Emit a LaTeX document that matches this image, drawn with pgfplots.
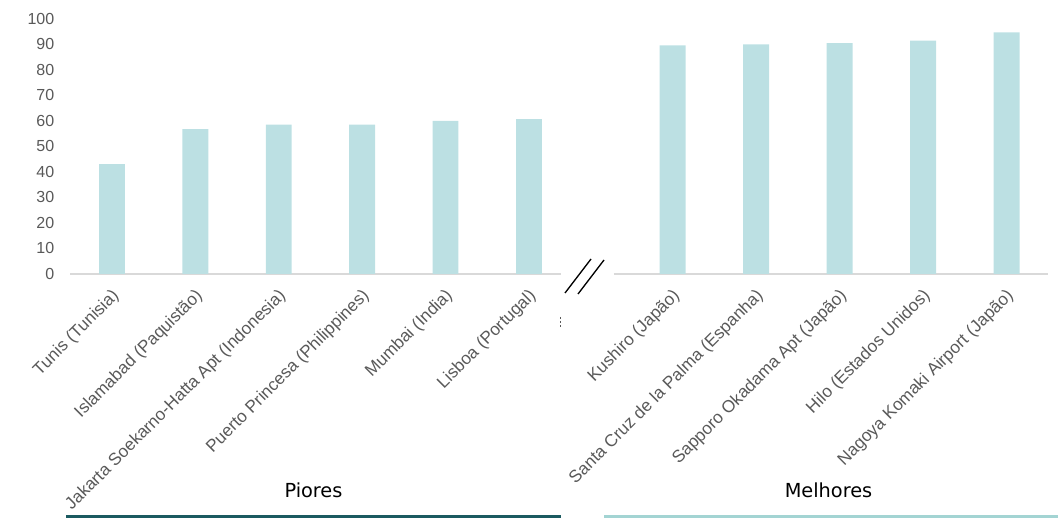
\documentclass[border=0pt]{standalone}
\usepackage{fontspec}
\setmainfont{Liberation Sans}
\newfontfamily\groupfont{DejaVu Sans}
\usepackage{pgfplots}
\pgfplotsset{compat=1.18}

\definecolor{barfill}{HTML}{BCE0E3}
\definecolor{ticktext}{HTML}{595959}
\definecolor{baseline}{HTML}{D9D9D9}
\definecolor{darkteal}{HTML}{1B5A60}
\definecolor{lightteal}{HTML}{A3D4D3}

\pgfplotsset{
  scorebars/.style={
    scale only axis,
    anchor=south west,
    height=191.4pt,
    ymin=0, ymax=100,
    axis x line=bottom,
    axis y line=left,
    x axis line style={-, draw=baseline, line width=1.1pt},
    y axis line style={draw=none},
    major tick length=0pt,
    ybar,
    bar width=0.31,
    xtick={0,...,5},
    ticklabel style={font=\fontsize{12}{14}\selectfont, text=ticktext},
    xticklabel style={font=\fontsize{12.9}{15}\selectfont, xshift=-1pt, yshift=-10pt,
      rotate=45, anchor=north east, inner sep=0pt},
    /pgf/number format/assume math mode=true,
    clip=false,
  }
}

\begin{document}
\begin{tikzpicture}[x=1pt,y=1pt]
\useasboundingbox (0,0) rectangle (793.5,388.5);

% worst-rated airports
\begin{axis}[scorebars,
  at={(52.7pt,183pt)}, width=367.8pt,
  xmin=-0.5, xmax=5.38,
  ytick={0,10,...,100},
  yticklabel style={xshift=-8.5pt},
  xticklabels={Tunis (Tunisia), Islamabad (Paquistão), Jakarta Soekarno-Hatta Apt (Indonesia),
    Puerto Princesa (Philippines), Mumbai (India), Lisboa (Portugal)},
]
\addplot[fill=barfill, draw=none] coordinates {
  (0,43.1) (1,56.8) (2,58.5) (3,58.5) (4,60.0) (5,60.7)};
\end{axis}

% best-rated airports
\begin{axis}[scorebars,
  at={(460.35pt,183pt)}, width=325.9pt,
  xmin=-0.705, xmax=4.5,
  xtick={0,...,4},
  ytick=\empty,
  xticklabels={Kushiro (Japão), Santa Cruz de la Palma (Espanha), Sapporo Okadama Apt (Japão),
    Hilo (Estados Unidos), Nagoya Komaki Airport (Japão)},
]
\addplot[fill=barfill, draw=none] coordinates {
  (0,89.6) (1,90.0) (2,90.5) (3,91.4) (4,94.7)};
\end{axis}

% axis break
\draw[line width=1pt, black] (423.75,168.75) -- (443.25,194.25);
\draw[line width=1pt, black] (433.5,168) -- (453,193.5);
\draw[line width=0.6pt, ticktext, dash pattern=on 1.5pt off 1.5pt] (420.5,150.75) -- (420.5,142.5);

% group captions
\node[anchor=base, font=\groupfont\fontsize{14.5}{17}\selectfont] at (235.1,15) {Piores};
\node[anchor=base, font=\groupfont\fontsize{14.5}{17}\selectfont] at (621.4,15) {Melhores};
\draw[darkteal, line width=2.25pt] (49.5,1.1) -- (420.75,1.1);
\draw[lightteal, line width=2.25pt] (453.2,1.1) -- (793.5,1.1);
\end{tikzpicture}
\end{document}
